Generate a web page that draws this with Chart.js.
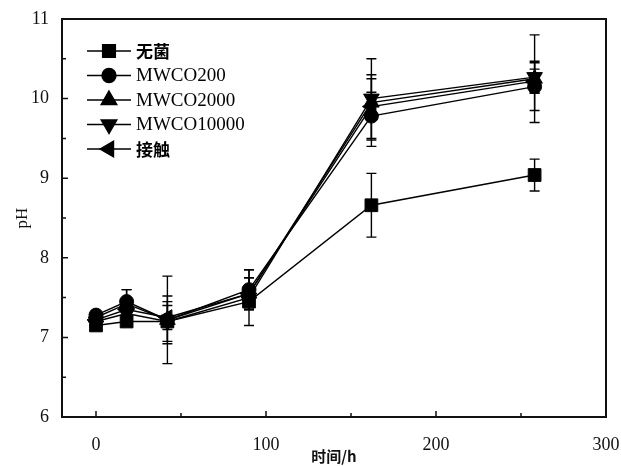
<!DOCTYPE html>
<html>
<head>
<meta charset="utf-8">
<script src="https://cdn.jsdelivr.net/npm/chart.js@4/dist/chart.umd.min.js"></script>
<style>
  html, body { margin: 0; padding: 0; background: #fff; }
  #wrap { width: 621px; height: 466px; }
</style>
</head>
<body>
<div id="wrap"><canvas id="chart"></canvas></div>
<script>
// time points (h)
var times = [0, 18, 42, 90, 162, 258];
var seriesNames = ['无菌', 'MWCO200', 'MWCO2000', 'MWCO10000', '接触'];

// pH values
var sterile   = [7.15, 7.20, 7.20, 7.45, 8.66, 9.04];
var mwco200   = [7.28, 7.45, 7.22, 7.60, 9.78, 10.15];
var mwco2000  = [7.25, 7.42, 7.22, 7.55, 9.95, 10.25];
var mwco10000 = [7.20, 7.30, 7.20, 7.50, 10.00, 10.27];
var contact   = [7.22, 7.35, 7.25, 7.55, 9.90, 10.22];

// error bar half heights
var sterileErr   = [0.03, 0.03, 0.05, 0.10, 0.40, 0.20];
var mwco200Err   = [0.03, 0.15, 0.55, 0.25, 0.30, 0.30];
var mwco2000Err  = [0.03, 0.18, 0.30, 0.20, 0.55, 0.55];
var mwco10000Err = [0.03, 0.10, 0.25, 0.35, 0.25, 0.20];
var contactErr   = [0.03, 0.10, 0.15, 0.20, 0.40, 0.15];

// tick labels
var xTicks = [0, 100, 200, 300];
var yTicks = [6, 7, 8, 9, 10, 11];

var values = [sterile, mwco200, mwco2000, mwco10000, contact];
var errors = [sterileErr, mwco200Err, mwco2000Err, mwco10000Err, contactErr];
var styles = ['rect', 'circle', 'triangle', 'triangle', 'triangle'];
var rotations = [0, 0, 0, 180, 270];
var radii = [9, 7, 9, 9, 9];

var serif = "'Liberation Serif', 'DejaVu Serif', serif";

var datasets = [];
for (var i = 0; i < seriesNames.length; i++) {
    var pts = [];
    for (var j = 0; j < times.length; j++) {
        pts.push({x: times[j], y: values[i][j]});
    }
    datasets.push({
        label: seriesNames[i],
        data: pts,
        errors: errors[i],
        borderColor: '#000',
        backgroundColor: '#000',
        borderWidth: 1.4,
        pointStyle: styles[i],
        pointRotation: rotations[i],
        pointRadius: radii[i],
        pointHoverRadius: radii[i],
        pointBackgroundColor: '#000',
        pointBorderColor: '#000',
        pointBorderWidth: 1,
        tension: 0
    });
}

//Error bars drawn through the scales
var errorBars = {
    id: 'errorBars',
    beforeDatasetsDraw: function(chart) {
        var ctx = chart.ctx, xs = chart.scales.x, ys = chart.scales.y;
        ctx.save();
        ctx.strokeStyle = '#000';
        ctx.lineWidth = 1.4;
        chart.data.datasets.forEach(function(ds) {
            ds.data.forEach(function(p, k) {
                var e = ds.errors[k];
                var px = xs.getPixelForValue(p.x);
                var top = ys.getPixelForValue(p.y + e);
                var bot = ys.getPixelForValue(p.y - e);
                ctx.beginPath();
                ctx.moveTo(px, top); ctx.lineTo(px, bot);
                ctx.moveTo(px - 5, top); ctx.lineTo(px + 5, top);
                ctx.moveTo(px - 5, bot); ctx.lineTo(px + 5, bot);
                ctx.stroke();
            });
        });
        ctx.restore();
    }
};

//Frame with inward ticks
var frame = {
    id: 'frame',
    afterDraw: function(chart) {
        var ctx = chart.ctx, a = chart.chartArea, xs = chart.scales.x, ys = chart.scales.y;
        ctx.save();
        ctx.strokeStyle = '#111';
        ctx.lineWidth = 2;
        ctx.strokeRect(a.left, a.top, a.right - a.left, a.bottom - a.top);
        ctx.lineWidth = 1.5;
        ctx.beginPath();
        for (var i = 0; i < xTicks.length; i++) {
            var px = xs.getPixelForValue(xTicks[i]);
            ctx.moveTo(px, a.bottom); ctx.lineTo(px, a.bottom - 6);
            if (i < xTicks.length - 1) {
                var mx = xs.getPixelForValue((xTicks[i] + xTicks[i + 1]) / 2);
                ctx.moveTo(mx, a.bottom); ctx.lineTo(mx, a.bottom - 4);
            }
        }
        for (var j = 0; j < yTicks.length; j++) {
            var py = ys.getPixelForValue(yTicks[j]);
            ctx.moveTo(a.left, py); ctx.lineTo(a.left + 6, py);
            if (j < yTicks.length - 1) {
                var my = ys.getPixelForValue((yTicks[j] + yTicks[j + 1]) / 2);
                ctx.moveTo(a.left, my); ctx.lineTo(a.left + 4, my);
            }
        }
        ctx.stroke();
        ctx.restore();
    }
};

//Legend inside the plot, line + marker like the original
var innerLegend = {
    id: 'innerLegend',
    afterDraw: function(chart) {
        var ctx = chart.ctx, a = chart.chartArea;
        ctx.save();
        chart.data.datasets.forEach(function(ds, i) {
            var y = a.top + 32 + i * 24.5;
            var x0 = a.left + 25, x1 = a.left + 69, xm = a.left + 47;
            ctx.strokeStyle = '#000';
            ctx.fillStyle = '#000';
            ctx.lineWidth = 1.4;
            ctx.beginPath();
            ctx.moveTo(x0, y); ctx.lineTo(x1, y);
            ctx.stroke();
            Chart.helpers.drawPoint(ctx, {
                pointStyle: ds.pointStyle,
                rotation: ds.pointRotation,
                radius: ds.pointRadius,
                borderWidth: 1
            }, xm, y);
            ctx.textBaseline = 'middle';
            ctx.textAlign = 'left';
            if (/[A-Za-z]/.test(ds.label)) {
                ctx.font = '19px ' + serif;
            } else {
                ctx.font = 'bold 17px "Noto Sans CJK SC"';
            }
            ctx.fillText(ds.label, a.left + 74, y + 1);
        });
        ctx.restore();
    }
};

var ctx = document.getElementById('chart').getContext('2d');
var chart = new Chart(ctx, {
    type: 'line',
    data: { datasets: datasets },
    options: {
        responsive: true,
        maintainAspectRatio: false,
        animation: false,
        layout: { padding: { left: 0, right: 15, top: 19, bottom: 0 } },
        plugins: {
            legend: { display: false },
            tooltip: { enabled: false }
        },
        scales: {
            x: {
                type: 'linear',
                min: -20,
                max: 300,
                grid: { display: false },
                border: { display: false },
                afterBuildTicks: function(s) {
                    s.ticks = xTicks.map(function(v) { return {value: v}; });
                },
                afterFit: function(s) {
                    s.height = 49;
                    s.paddingLeft = 0;
                    s.paddingRight = 0;
                },
                ticks: {
                    color: '#111',
                    padding: 9,
                    maxRotation: 0,
                    font: { family: serif, size: 18 }
                },
                title: {
                    display: true,
                    text: '时间/h',
                    color: '#111',
                    padding: { top: 0, bottom: 1 },
                    font: { family: '"Noto Sans CJK SC"', size: 15, weight: 'bold' }
                }
            },
            y: {
                min: 6,
                max: 11,
                grid: { display: false },
                border: { display: false },
                afterBuildTicks: function(s) {
                    s.ticks = yTicks.map(function(v) { return {value: v}; });
                },
                afterFit: function(s) {
                    s.width = 62;
                    s.paddingTop = 0;
                    s.paddingBottom = 0;
                },
                ticks: {
                    color: '#111',
                    padding: 5,
                    font: { family: serif, size: 18 }
                },
                title: {
                    display: true,
                    text: 'pH',
                    color: '#111',
                    padding: { top: 12, bottom: 0 },
                    font: { family: serif, size: 17 }
                }
            }
        }
    },
    plugins: [errorBars, frame, innerLegend]
});
</script>
</body>
</html>
